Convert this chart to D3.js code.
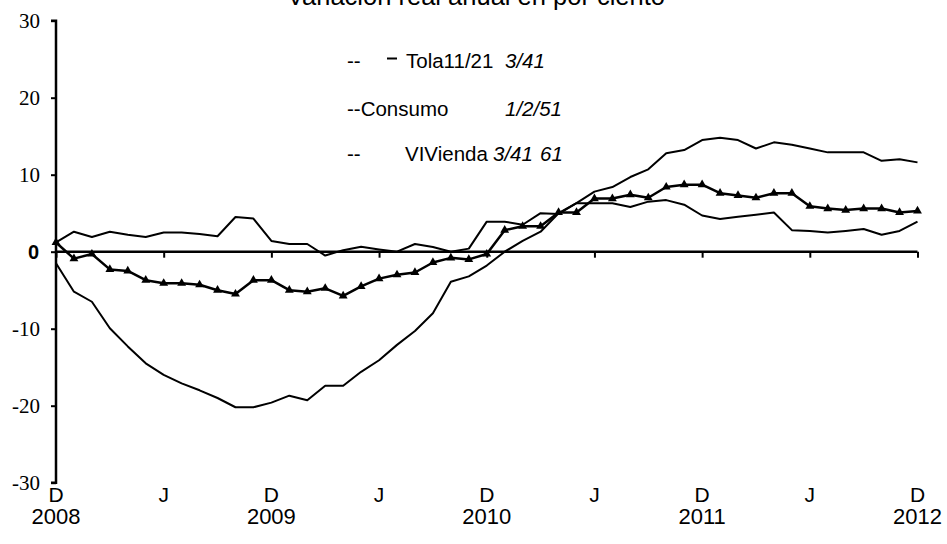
<!DOCTYPE html>
<html>
<head>
<meta charset="utf-8">
<script src="https://cdn.jsdelivr.net/npm/d3@7"></script>
<style>
  html, body { margin: 0; padding: 0; background: #fff; }
  svg { display: block; }
</style>
</head>
<body>
<svg id="chart" width="947" height="544"></svg>
<script>
// Monthly series, Dec 2008 – Dec 2012 (49 observations), real annual % change
const total = [1.2, -0.9, -0.3, -2.3, -2.5, -3.7, -4.1, -4.1, -4.3, -5.0, -5.5, -3.7,
  -3.7, -5.0, -5.2, -4.75, -5.75, -4.5, -3.5, -3.0, -2.7, -1.4, -0.8, -1.0,
  -0.3, 2.8, 3.3, 3.3, 5.1, 5.1, 6.9, 6.9, 7.4, 7.0, 8.4, 8.7,
  8.7, 7.6, 7.3, 7.0, 7.6, 7.6, 5.9, 5.6, 5.4, 5.6, 5.6, 5.1, 5.3];

const consumo = [-1.5, -5.2, -6.5, -9.95, -12.3, -14.5, -16.0, -17.1, -18.0, -19.0, -20.2, -20.2,
  -19.6, -18.7, -19.3, -17.4, -17.4, -15.6, -14.1, -12.1, -10.3, -8.0, -3.9, -3.2,
  -1.8, 0.0, 1.4, 2.6, 5.0, 6.3, 7.8, 8.4, 9.7, 10.7, 12.8, 13.2,
  14.5, 14.8, 14.5, 13.4, 14.2, 13.9, 13.4, 12.9, 12.9, 12.9, 11.8, 12.0, 11.6];

const vivienda = [1.2, 2.6, 1.9, 2.6, 2.2, 1.9, 2.5, 2.5, 2.3, 2.0, 4.5, 4.3,
  1.4, 1.0, 1.0, -0.5, 0.2, 0.65, 0.3, 0.0, 1.0, 0.6, 0.0, 0.4,
  3.9, 3.9, 3.5, 5.0, 4.9, 6.3, 6.3, 6.3, 5.8, 6.5, 6.7, 6.1,
  4.7, 4.25, 4.55, 4.8, 5.1, 2.8, 2.7, 2.5, 2.7, 2.95, 2.2, 2.7, 3.9];

// Axis ticks: every six months (D = diciembre, J = junio)
const xTickIndex = [0, 6, 12, 18, 24, 30, 36, 42, 48];
const xTickMonth = ["D", "J", "D", "J", "D", "J", "D", "J", "D"];
const xTickYear = ["2008", "", "2009", "", "2010", "", "2011", "", "2012"];
const yTicks = [30, 20, 10, 0, -10, -20, -30];
const yTickLabels = ["30", "20", "10", "0", "-10", "-20", "-30"];

const title = "Variación real anual en por ciento";

const SANS = "'Liberation Sans', Arial, sans-serif";
const SERIF = "'Liberation Serif', 'Times New Roman', serif";

const svg = d3.select("#chart");

const x = d3.scaleLinear().domain([0, 48]).range([56, 917.5]);
const y = d3.scaleLinear().domain([-30, 30]).range([482.7, 20.7]);

// Title (runs off the top edge)
svg.append("text")
  .attr("font-family", SANS)
  .attr("x", 476).attr("y", 5)
  .attr("text-anchor", "middle")
  .attr("font-size", 25.5)
  .attr("fill", "#000")
  .text(title);

// Y axis
const yAxis = d3.axisLeft(y).tickValues(yTicks).tickSize(5).tickFormat("");
const gy = svg.append("g").attr("transform", `translate(${x(0)},0)`).call(yAxis);
gy.select(".domain").attr("stroke", "#000").attr("stroke-width", 2.5).attr("d", `M-5,${y(30)}H0V${y(-30)}H-5`);
gy.selectAll(".tick line").attr("stroke", "#000").attr("stroke-width", 2);

svg.append("g").selectAll("text")
  .data(yTicks)
  .enter().append("text")
  .attr("font-family", (d) => d === 0 ? SANS : SERIF)
  .attr("x", (d) => x(0) - (d === 0 ? 17 : 16))
  .attr("y", (d) => y(d))
  .attr("dy", (d) => d === 0 ? "0.36em" : "0.33em")
  .attr("text-anchor", "end")
  .attr("font-size", (d) => d === 0 ? 20 : 21)
  .attr("font-weight", (d) => d === 0 ? "bold" : "normal")
  .attr("fill", "#000")
  .text((d, i) => yTickLabels[i]);

// X axis along the zero line
const xAxis = d3.axisBottom(x).tickValues(xTickIndex).tickSize(6).tickFormat("");
const gx = svg.append("g").attr("transform", `translate(0,${y(0)})`).call(xAxis);
gx.select(".domain").attr("stroke", "#000").attr("stroke-width", 2.5).attr("d", `M${x(0)},0H${x(48)}`);
gx.selectAll(".tick line").attr("stroke", "#000").attr("stroke-width", 2);

// Period labels below the plot
svg.append("g").selectAll("text")
  .data(xTickIndex)
  .enter().append("text")
  .attr("font-family", SANS)
  .attr("x", (d) => x(d)).attr("y", 502)
  .attr("text-anchor", "middle")
  .attr("font-size", 21)
  .attr("fill", "#000")
  .text((d, i) => xTickMonth[i]);

svg.append("g").selectAll("text")
  .data(xTickIndex)
  .enter().append("text")
  .attr("font-family", SANS)
  .attr("x", (d) => x(d)).attr("y", 524)
  .attr("text-anchor", "middle")
  .attr("font-size", 22)
  .attr("fill", "#000")
  .text((d, i) => xTickYear[i]);

// Lines
const line = d3.line().x((d, i) => x(i)).y((d) => y(d));

svg.append("path").datum(consumo)
  .attr("fill", "none").attr("stroke", "#000").attr("stroke-width", 2)
  .attr("stroke-linejoin", "round").attr("d", line);

svg.append("path").datum(vivienda)
  .attr("fill", "none").attr("stroke", "#000").attr("stroke-width", 2)
  .attr("stroke-linejoin", "round").attr("d", line);

svg.append("path").datum(total)
  .attr("fill", "none").attr("stroke", "#000").attr("stroke-width", 2.5)
  .attr("stroke-linejoin", "round").attr("d", line);

const tri = d3.symbol().type(d3.symbolTriangle).size(34);
svg.selectAll(".marker")
  .data(total)
  .enter().append("path")
  .attr("class", "marker")
  .attr("transform", (d, i) => `translate(${x(i)},${y(d)})`)
  .attr("fill", "#000")
  .attr("d", tri);

// Legend text
const legend = svg.append("g").attr("font-family", SANS).attr("font-size", 20.5).attr("fill", "#000");
legend.append("text").attr("x", 347).attr("y", 68).text("--");
legend.append("line").attr("x1", 387).attr("x2", 397).attr("y1", 58.5).attr("y2", 58.5)
  .attr("stroke", "#000").attr("stroke-width", 2);
legend.append("text").attr("x", 406).attr("y", 68).text("Tola11/21");
legend.append("text").attr("x", 505).attr("y", 68).attr("font-style", "italic").text("3/41");

legend.append("text").attr("x", 347).attr("y", 116).text("--Consumo");
legend.append("text").attr("x", 505).attr("y", 116).attr("font-style", "italic").text("1/2/51");

legend.append("text").attr("x", 347).attr("y", 161).text("--");
legend.append("text").attr("x", 405).attr("y", 161).text("VIVienda");
legend.append("text").attr("x", 493).attr("y", 161).attr("font-style", "italic").text("3/41");
legend.append("text").attr("x", 540).attr("y", 161).attr("font-style", "italic").text("61");
</script>
</body>
</html>
